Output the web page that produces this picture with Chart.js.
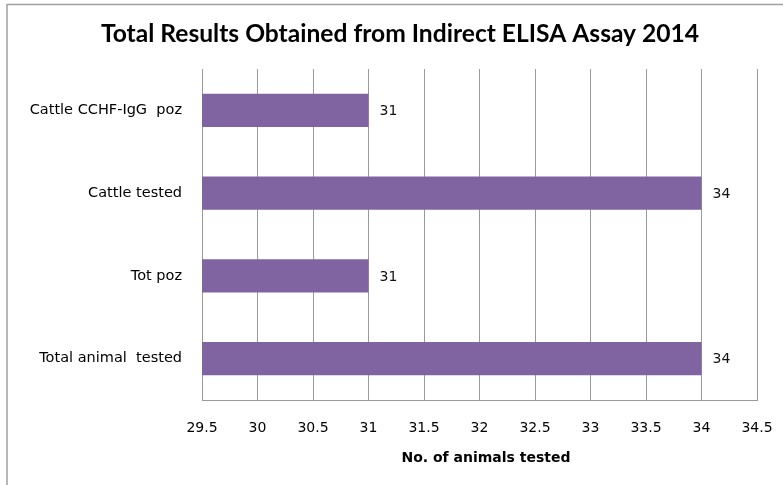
<!DOCTYPE html>
<html>
<head>
<meta charset="utf-8">
<script src="https://cdn.jsdelivr.net/npm/chart.js@4/dist/chart.umd.min.js"></script>
<style>
html,body{margin:0;padding:0;background:#fff;}
#wrap{position:relative;width:783px;height:485px;}
</style>
</head>
<body>
<div id="wrap"><canvas id="c" width="783" height="485"></canvas></div>
<script>
const categories = ["Cattle CCHF-IgG  poz", "Cattle tested", "Tot poz", "Total animal  tested"];
const values = [31, 34, 31, 34];
const xMin = 29.5, xMax = 34.5, xStep = 0.5;
const chartTitle = "Total Results Obtained from Indirect ELISA Assay 2014";
const xAxisTitle = "No. of animals tested";

const frame = {
  id: 'frame',
  beforeDraw(chart) {
    const ctx = chart.ctx;
    ctx.save();
    ctx.strokeStyle = '#a0a0a0';
    ctx.lineWidth = 1.5;
    ctx.beginPath();
    ctx.moveTo(7, 485); ctx.lineTo(7, 4.5); ctx.lineTo(783, 4.5);
    ctx.stroke();
    ctx.restore();
  }
};

const texts = {
  id: 'texts',
  afterDraw(chart) {
    const ctx = chart.ctx;
    ctx.save();
    ctx.fillStyle = '#000';
    ctx.textAlign = 'center';
    ctx.textBaseline = 'middle';
    ctx.font = 'bold 24.6px Lato';
    ctx.fillText(chartTitle, 400, 34);
    ctx.font = 'bold 14px "DejaVu Sans"';
    ctx.fillText(xAxisTitle, 486, 458);
    ctx.restore();
  }
};

const labels = {
  id: 'barLabels',
  afterDatasetsDraw(chart) {
    const ctx = chart.ctx;
    const meta = chart.getDatasetMeta(0);
    ctx.save();
    ctx.font = '14px "DejaVu Sans"';
    ctx.fillStyle = '#111';
    ctx.textAlign = 'left';
    ctx.textBaseline = 'middle';
    meta.data.forEach((el, i) => {
      ctx.fillText(String(values[i]), el.x + 11, el.y + 1);
    });
    ctx.restore();
  }
};

new Chart(document.getElementById('c'), {
  type: 'bar',
  data: {
    labels: categories,
    datasets: [{
      data: values,
      backgroundColor: '#8064A2',
      borderWidth: 0,
      categoryPercentage: 1,
      barPercentage: 0.4
    }]
  },
  options: {
    indexAxis: 'y',
    responsive: false,
    animation: false,
    layout: { padding: { left: 0, right: 26, top: 69, bottom: 0 } },
    plugins: {
      legend: { display: false },
      tooltip: { enabled: false },
      title: { display: false }
    },
    scales: {
      x: {
        type: 'linear',
        min: xMin, max: xMax,
        ticks: { stepSize: xStep, color: '#000', font: { family: 'DejaVu Sans', size: 14 }, padding: 20, maxRotation: 0,
          callback: v => String(Math.round(v * 10) / 10) },
        grid: { display: true, color: '#9a9a9a', lineWidth: 1, drawTicks: false },
        border: { display: true, color: '#9a9a9a', width: 1 },
        afterFit(s) { s.height = 85; s.paddingLeft = 0; s.paddingRight = 0; }
      },
      y: {
        ticks: { color: '#000', font: { family: 'DejaVu Sans', size: 14.5 }, padding: 20 },
        grid: { display: false, drawTicks: false },
        border: { display: true, color: '#9a9a9a', width: 1 },
        afterFit(s) { s.width = 202; s.paddingTop = 0; s.paddingBottom = 0; }
      }
    }
  },
  plugins: [frame, labels, texts]
});
</script>
</body>
</html>
